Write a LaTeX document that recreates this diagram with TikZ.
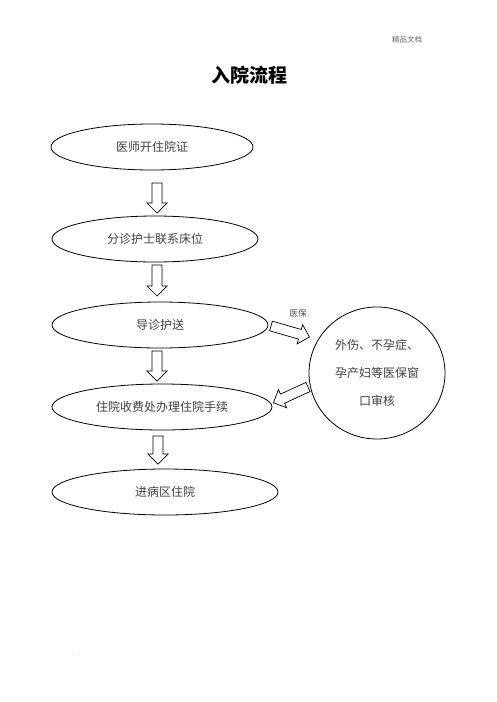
\documentclass[tikz,border=0pt]{standalone}
\usepackage{fontspec}
\newfontfamily\cjk{Noto Sans CJK SC}
\usetikzlibrary{shapes.geometric}

\tikzset{
  flow/.style={ellipse, draw, line width=0.8pt, minimum width=#1, minimum height=46pt,
    inner sep=0pt, text=black!75, font=\cjk\fontsize{12}{14}\selectfont},
  pics/bigarrow/.style={code={
    \draw[line width=0.7pt] (0,-5) -- ({#1-10},-5) -- ({#1-10},-10) -- (#1,0)
      -- ({#1-10},10) -- ({#1-10},5) -- (0,5) -- cycle;}}
}

\begin{document}
\begin{tikzpicture}[x=1pt, y=-1pt, font=\cjk]
        \useasboundingbox (0,0) rectangle (496,702);

        \node[text=black!60, font=\cjk\fontsize{7.5}{9}\selectfont] (head) at (407,40) {精品文档};
        \node[font=\cjk\bfseries\fontsize{19}{22}\selectfont] (title) at (249,75) {入院流程};

        \node[flow=202pt] (doctor) at (152,147) {医师开住院证};
        \node[flow=206pt] (nurse) at (155,239) {分诊护士联系床位};
        \node[flow=216pt] (guide) at (160,325) {导诊护送};
        \node[flow=220pt] (pay) at (162,407) {住院收费处办理住院手续};
        \node[flow=226pt] (ward) at (165,492) {进病区住院};
        \node[ellipse, draw, line width=0.8pt, minimum width=136pt, minimum height=132pt,
          inner sep=0pt, align=center, text=black!75, font=\cjk\fontsize{12}{28}\selectfont]
          (check) at (377,373) {外伤、不孕症、\\孕产妇等医保窗\\口审核};
        \node[text=black!70, font=\cjk\fontsize{8.5}{10}\selectfont] (ins) at (298,313) {医保};
        \node[text=black!60, font=\fontsize{6}{7}\selectfont] (dot) at (74,655) {.};

        \coordinate (a1) at (157,183);
        \coordinate (a2) at (157,265);
        \coordinate (a3) at (157,351);
        \coordinate (a4) at (158,436);
        \coordinate (out) at (271,326);
        \coordinate (back) at (308,387);

        \pic[rotate=-90] at (a1) {bigarrow=30};
        \pic[rotate=-90] at (a2) {bigarrow=31};
        \pic[rotate=-90] at (a3) {bigarrow=30};
        \pic[rotate=-90] at (a4) {bigarrow=28};
        \pic[rotate=-16] at (out) {bigarrow=40};
        \pic[rotate=-155.4] at (back) {bigarrow=38};
      \end{tikzpicture}
\end{document}
